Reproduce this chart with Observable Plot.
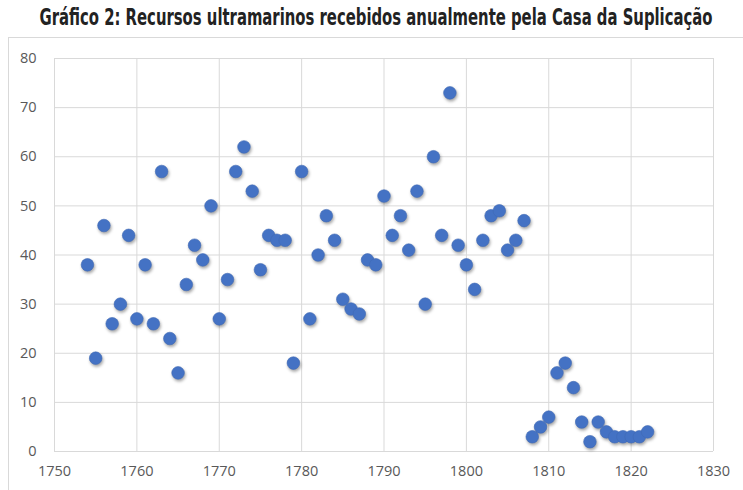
<!DOCTYPE html>
<html>
<head>
<meta charset="utf-8">
<script src="https://cdn.jsdelivr.net/npm/d3@7"></script>
<script src="https://cdn.jsdelivr.net/npm/@observablehq/plot@0.6"></script>
<style>
  html, body { margin: 0; padding: 0; background: #fff; }
  #wrap { position: relative; width: 743px; height: 490px; overflow: hidden; }
  #title { position: absolute; left: 376px; top: 3px; white-space: nowrap;
    font-family: "Liberation Sans Narrow", "DejaVu Sans Condensed", "DejaVu Sans", sans-serif;
    font-weight: bold; font-size: 22.5px; line-height: 28px; color: #222; transform-origin: 0 0; }
  #frame { position: absolute; left: 8px; top: 37px; width: 800px; height: 500px;
    border: 1px solid #d9d9d9; box-sizing: border-box; }
  #chart { position: absolute; left: 0; top: 37px; }
</style>
</head>
<body>
<div id="wrap">
  <span id="title">Gráfico 2: Recursos ultramarinos recebidos anualmente pela Casa da Suplicação</span>
  <div id="frame"></div>
  <div id="chart"></div>
</div>
<script>
const years = [1754,1755,1756,1757,1758,1759,1760,1761,1762,1763,1764,1765,1766,1767,1768,1769,1770,1771,1772,1773,1774,1775,1776,1777,1778,1779,1780,1781,1782,1783,1784,1785,1786,1787,1788,1789,1790,1791,1792,1793,1794,1795,1796,1797,1798,1799,1800,1801,1802,1803,1804,1805,1806,1807,1808,1809,1810,1811,1812,1813,1814,1815,1816,1817,1818,1819,1820,1821,1822];
const values = [38,19,46,26,30,44,27,38,26,57,23,16,34,42,39,50,27,35,57,62,53,37,44,43,43,18,57,27,40,48,43,31,29,28,39,38,52,44,48,41,53,30,60,44,73,42,38,33,43,48,49,41,43,47,3,5,7,16,18,13,6,2,6,4,3,3,3,3,4];
const xTicks = [1750,1760,1770,1780,1790,1800,1810,1820,1830];
const yTicks = [0,10,20,30,40,50,60,70,80];

const data = years.map((y, i) => ({year: y, value: values[i]}));

// fit title to the reference width (~673px), centred at x≈376
const t = document.getElementById("title");
const w = t.getBoundingClientRect().width;
const s = 673 / w;
t.style.transform = `translateX(${-673 / 2}px) scaleX(${s})`;

const chart = Plot.plot({
  width: 743,
  height: 453,
  marginLeft: 54,
  marginRight: 30,
  marginTop: 21,
  marginBottom: 39,
  style: {fontFamily: "'Open Sans', sans-serif", fontSize: "14.5px", color: "#595959", background: "transparent"},
  x: {domain: [1750, 1830], ticks: xTicks, tickFormat: d => String(d), label: null},
  y: {domain: [0, 80], ticks: yTicks, label: null},
  marks: [
    Plot.gridX(xTicks, {stroke: "#d9d9d9", strokeOpacity: 1}),
    Plot.gridY(yTicks, {stroke: "#d9d9d9", strokeOpacity: 1}),
    Plot.axisX(xTicks, {tickSize: 0, tickPadding: 14, tickFormat: d => String(d), fill: "#595959"}),
    Plot.axisY(yTicks, {tickSize: 0, tickPadding: 18, fill: "#595959"}),
    Plot.dot(data, {x: "year", y: "value", r: 6.3, fill: "#4472c4", stroke: "#3f69b5", strokeWidth: 0.6})
  ]
});
document.getElementById("chart").appendChild(chart);
const dots = chart.querySelector('g[aria-label="dot"]');
if (dots) dots.style.filter = "drop-shadow(1px 2px 1.5px rgba(0,0,0,0.35))";
</script>
</body>
</html>
